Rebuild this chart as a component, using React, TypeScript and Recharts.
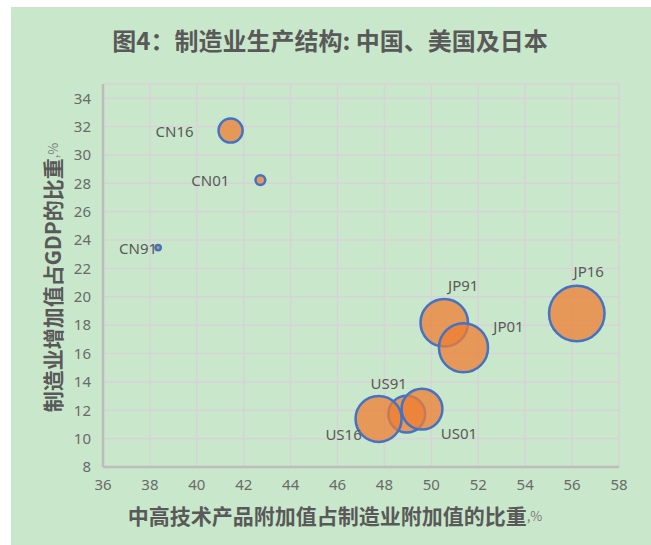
import React from 'react';
import { ScatterChart, Scatter, XAxis, YAxis, ZAxis, CartesianGrid, LabelList, Label } from 'recharts';

// Data
const pointNames = ['CN91', 'CN01', 'CN16', 'JP91', 'JP01', 'JP16', 'US91', 'US01', 'US16'];
const hiTechShare = [38.35, 42.71, 41.44, 50.55, 51.37, 56.2, 48.95, 49.6, 47.75];
const mfgShareOfGDP = [23.47, 28.23, 31.72, 18.17, 16.41, 18.82, 11.73, 12.08, 11.39];
const bubbleSize = [0.07, 0.24, 1.45, 5.64, 6.02, 7.7, 3.39, 4.18, 5.3];

const xTicks = [36, 38, 40, 42, 44, 46, 48, 50, 52, 54, 56, 58];
const yTicks = [8, 10, 12, 14, 16, 18, 20, 22, 24, 26, 28, 30, 32, 34];

const titleText = '图4：制造业生产结构: 中国、美国及日本';
const xTitle = '中高技术产品附加值占制造业附加值的比重';
const yTitle = '制造业增加值占GDP的比重';
const unitText = ',%';

const data = pointNames.map((name, i) => ({
  name,
  x: hiTechShare[i],
  y: mfgShareOfGDP[i],
  z: bubbleSize[i],
}));

// Styles
const BG = '#C9E8CB';
const GRID = '#D8D2D8';
const AXIS = '#BDBDBD';
const TEXT = '#595959';
const TICK = '#6A6A6A';
const FONT = '"Noto Sans", "Noto Sans CJK SC", sans-serif';
const CJK = '"Noto Sans CJK SC", "Noto Sans", sans-serif';

const labelOffset: Record<string, [number, number]> = {
  CN91: [-20, 0],
  CN01: [-50, 0],
  CN16: [-56, 0],
  JP91: [19, -38],
  JP01: [45, -22],
  JP16: [12, -43],
  US91: [-18, -31],
  US01: [37, 24],
  US16: [-35, 15],
};

const renderPointLabel = (props: any) => {
  const vb = props.viewBox || props;
  const x = vb.x ?? props.x;
  const y = vb.y ?? props.y;
  const w = vb.width ?? props.width ?? 0;
  const h = vb.height ?? props.height ?? 0;
  const cx = x + w / 2;
  const cy = y + h / 2;
  const off = labelOffset[props.value] || [0, 0];
  return (
    <text
      x={cx + off[0]}
      y={cy + off[1]}
      textAnchor="middle"
      dominantBaseline="central"
      fontSize={15}
      fontFamily={FONT}
      fill={TEXT}
    >
      {props.value}
    </text>
  );
};

const renderXTitle = (props: any) => {
  const vb = props.viewBox;
  const cx = vb.x + vb.width / 2 - 26;
  const cy = vb.y + 48;
  return (
    <text x={cx} y={cy} textAnchor="middle" dominantBaseline="central" fontFamily={CJK} fill={TEXT}>
      <tspan fontSize={21} fontWeight="bold">{xTitle}</tspan>
      <tspan fontSize={13} fill="#7a7a7a">{unitText}</tspan>
    </text>
  );
};

const renderYTitle = (props: any) => {
  const vb = props.viewBox;
  const cx = vb.x + 41;
  const cy = vb.y + vb.height / 2 + 2;
  return (
    <text
      x={cx}
      y={cy}
      textAnchor="middle"
      dominantBaseline="central"
      fontFamily={CJK}
      fill={TEXT}
      transform={`rotate(-90, ${cx}, ${cy})`}
    >
      <tspan fontSize={21} fontWeight="bold">{yTitle}</tspan>
      <tspan fontSize={13} fill="#7a7a7a">{unitText}</tspan>
    </text>
  );
};

export default function App() {
  return (
    <div style={{ position: 'absolute', left: 0, top: 0, width: 651, height: 545, background: '#fff', overflow: 'hidden' }}>
      <div style={{ position: 'absolute', left: 11, top: 7, width: 640, height: 538, background: BG }}>
        <div
          style={{
            position: 'absolute',
            left: 319,
            top: 19,
            transform: 'translateX(-50%)',
            whiteSpace: 'nowrap',
            fontFamily: CJK,
            fontSize: 24,
            fontWeight: 'bold',
            lineHeight: '28px',
            color: TEXT,
          }}
        >
          {titleText}
        </div>
        <ScatterChart width={640} height={538} margin={{ top: 77, right: 32, bottom: 0, left: 0 }}>
          <CartesianGrid stroke={GRID} strokeWidth={1.5} />
          <XAxis
            type="number"
            dataKey="x"
            domain={[36, 58]}
            ticks={xTicks}
            interval={0}
            height={78}
            axisLine={{ stroke: AXIS, strokeWidth: 2.5 }}
            tickLine={false}
            tickSize={0}
            tickMargin={12}
            tick={{ fontSize: 15, fill: TICK, fontFamily: FONT }}
          >
            <Label content={renderXTitle} />
          </XAxis>
          <YAxis
            type="number"
            dataKey="y"
            domain={[8, 35]}
            ticks={yTicks}
            interval={0}
            width={92}
            axisLine={{ stroke: AXIS, strokeWidth: 2.5 }}
            tickLine={false}
            tickSize={0}
            tickMargin={12}
            tick={{ fontSize: 15, fill: TICK, fontFamily: FONT }}
          >
            <Label content={renderYTitle} />
          </YAxis>
          <ZAxis type="number" dataKey="z" domain={[0, 7.7]} range={[0, 2419]} />
          <Scatter
            data={data}
            fill="#ED7D31"
            fillOpacity={0.75}
            stroke="#4472C4"
            strokeWidth={2.5}
            isAnimationActive={false}
          >
            <LabelList dataKey="name" content={renderPointLabel} />
          </Scatter>
        </ScatterChart>
      </div>
    </div>
  );
}
